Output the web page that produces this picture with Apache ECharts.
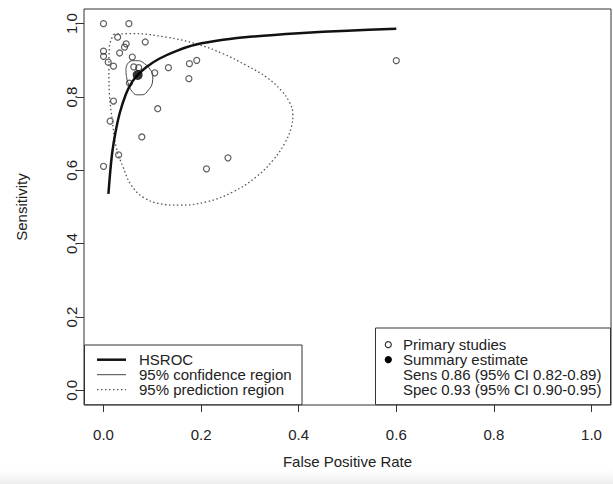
<!DOCTYPE html>
<html>
<head>
<meta charset="utf-8">
<style>
  html, body { margin: 0; padding: 0; background: #fff; }
  #chart { width: 613px; height: 484px; }
</style>
<script src="https://cdn.jsdelivr.net/npm/echarts@6.0.0/dist/echarts.min.js"></script>
</head>
<body>
<div id="chart"></div>
<script>
// primary studies (false positive rate, sensitivity)
const studyFpr = [0, 0.052, 0.029, 0.0465, 0.043, 0.0855, 0, 0, 0.033, 0.0096, 0.0205, 0.059, 0.062, 0.072,
  0.105, 0.133, 0.176, 0.191, 0.175, 0.053, 0.0205, 0.111, 0.0137, 0.0785, 0.031, 0, 0.255, 0.211, 0.6];
const studySens = [1.0, 1.0, 0.963, 0.945, 0.936, 0.95, 0.925, 0.911, 0.92, 0.895, 0.884, 0.909, 0.882, 0.88,
  0.866, 0.88, 0.891, 0.9, 0.85, 0.838, 0.789, 0.768, 0.734, 0.691, 0.642, 0.611, 0.634, 0.604, 0.899];

// summary estimate
const summaryFpr = [0.07];
const summarySens = [0.86];

// HSROC curve
const curveFpr = [0.010, 0.014, 0.018, 0.024, 0.033, 0.046, 0.058, 0.070, 0.088, 0.115, 0.15, 0.19, 0.245,
  0.306, 0.40, 0.50, 0.60];
const curveSens = [0.536, 0.60, 0.65, 0.70, 0.755, 0.808, 0.840, 0.860, 0.882, 0.905, 0.926, 0.943, 0.956,
  0.965, 0.974, 0.981, 0.986];

// 95% confidence region
const confFpr = [0.046, 0.050, 0.060, 0.072, 0.084, 0.095, 0.101, 0.100, 0.092, 0.080, 0.068, 0.058, 0.052,
  0.047, 0.046];
const confSens = [0.878, 0.892, 0.899, 0.899, 0.891, 0.876, 0.858, 0.838, 0.819, 0.806, 0.806, 0.816, 0.832,
  0.856, 0.878];

// 95% prediction region
const predFpr = [0.0205, 0.060, 0.129, 0.190, 0.245, 0.293, 0.334, 0.364, 0.381, 0.388, 0.385, 0.371, 0.347,
  0.313, 0.265, 0.211, 0.156, 0.115, 0.081, 0.057, 0.040, 0.026, 0.018, 0.012, 0.011, 0.012, 0.0205];
const predSens = [0.971, 0.973, 0.963, 0.945, 0.918, 0.886, 0.854, 0.818, 0.786, 0.755, 0.718, 0.673, 0.627,
  0.582, 0.541, 0.514, 0.505, 0.509, 0.527, 0.559, 0.609, 0.663, 0.736, 0.809, 0.873, 0.936, 0.971];

const tickValues = [0, 0.2, 0.4, 0.6, 0.8, 1.0];

const leftLegend = ['HSROC', '95% confidence region', '95% prediction region'];
const rightLegend = ['Primary studies', 'Summary estimate',
  'Sens 0.86 (95% CI 0.82-0.89)', 'Spec 0.93 (95% CI 0.90-0.95)'];

const pairs = (xs, ys) => xs.map((x, i) => [x, ys[i]]);

const FONT = '"Liberation Sans", Arial, Helvetica, sans-serif';
const ink = '#222';

const chart = echarts.init(document.getElementById('chart'), null, { renderer: 'svg' });

function axisBase(name) {
  return {
    type: 'value',
    min: -0.04,
    max: 1.04,
    name: name,
    nameLocation: 'middle',
    nameTextStyle: { color: ink, fontSize: 15, fontFamily: FONT },
    splitLine: { show: false },
    axisLine: { show: false, onZero: false },
    axisTick: {
      show: true,
      inside: false,
      length: 7,
      customValues: tickValues,
      lineStyle: { color: '#333', width: 1 },
    },
    axisLabel: {
      customValues: tickValues,
      color: ink,
      fontSize: 15,
      fontFamily: FONT,
      formatter: (v) => v.toFixed(1),
    },
  };
}

const xAxis = axisBase('False Positive Rate');
xAxis.position = 'bottom';
xAxis.nameGap = 49;
xAxis.axisLabel.margin = 22;

const yAxis = axisBase('Sensitivity');
yAxis.nameGap = 55;
yAxis.nameRotate = 90;
yAxis.axisLabel.rotate = 90;
yAxis.axisLabel.margin = 5;

// legend boxes, drawn like the R legends
const rowY = [344.7, 359.7, 374.7, 389.7];
const graphics = [
  {
    type: 'rect',
    shape: { x: 0, y: 470, width: 613, height: 14 },
    style: {
      fill: new echarts.graphic.LinearGradient(0, 0, 0, 1, [
        { offset: 0, color: '#ffffff' },
        { offset: 1, color: '#eeeeee' },
      ]),
    },
    silent: true,
    z: -10,
  },
  {
    type: 'rect',
    shape: { x: 84.5, y: 345, width: 217.5, height: 59.7 },
    style: { fill: '#fff', stroke: '#333', lineWidth: 1 },
    z: 50,
  },
  {
    type: 'line',
    shape: { x1: 97, y1: rowY[1], x2: 126, y2: rowY[1] },
    style: { stroke: '#111', lineWidth: 2.5 },
    z: 51,
  },
  {
    type: 'line',
    shape: { x1: 97, y1: rowY[2], x2: 126, y2: rowY[2] },
    style: { stroke: '#444', lineWidth: 1 },
    z: 51,
  },
  {
    type: 'line',
    shape: { x1: 97, y1: rowY[3], x2: 126, y2: rowY[3] },
    style: { stroke: '#555', lineWidth: 1.3, lineDash: [1.5, 2.5] },
    z: 51,
  },
  {
    type: 'rect',
    shape: { x: 375.5, y: 328, width: 235, height: 76.7 },
    style: { fill: '#fff', stroke: '#333', lineWidth: 1 },
    z: 50,
  },
  {
    type: 'circle',
    shape: { cx: 388.3, cy: rowY[0], r: 3 },
    style: { fill: 'none', stroke: '#333', lineWidth: 1.2 },
    z: 51,
  },
  {
    type: 'circle',
    shape: { cx: 388.3, cy: rowY[1], r: 3.6 },
    style: { fill: '#000' },
    z: 51,
  },
];
leftLegend.forEach((t, i) => {
  graphics.push({
    type: 'text',
    x: 139,
    y: rowY[i + 1],
    style: { text: t, fill: ink, font: '15px ' + FONT, verticalAlign: 'middle' },
    z: 51,
  });
});
rightLegend.forEach((t, i) => {
  graphics.push({
    type: 'text',
    x: 403,
    y: rowY[i],
    style: { text: t, fill: ink, font: '15px ' + FONT, verticalAlign: 'middle' },
    z: 51,
  });
});

chart.setOption({
  animation: false,
  backgroundColor: '#fff',
  grid: {
    left: 84,
    top: 9,
    right: 2,
    bottom: 79,
    show: true,
    borderColor: '#333',
    borderWidth: 1,
  },
  xAxis: xAxis,
  yAxis: yAxis,
  graphic: graphics,
  series: [
    {
      name: 'Primary studies',
      type: 'scatter',
      data: pairs(studyFpr, studySens),
      symbol: 'circle',
      symbolSize: 6,
      itemStyle: { color: 'rgba(255,255,255,0)', borderColor: '#333', borderWidth: 1.2 },
      z: 2,
    },
    {
      name: '95% prediction region',
      type: 'line',
      data: pairs(predFpr, predSens),
      smooth: 0.4,
      showSymbol: false,
      lineStyle: { color: '#555', width: 1.3, type: [1.5, 2.5] },
      z: 3,
    },
    {
      name: '95% confidence region',
      type: 'line',
      data: pairs(confFpr, confSens),
      smooth: 0.4,
      showSymbol: false,
      lineStyle: { color: '#444', width: 1 },
      z: 3,
    },
    {
      name: 'HSROC',
      type: 'line',
      data: pairs(curveFpr, curveSens),
      smooth: 0.3,
      showSymbol: false,
      lineStyle: { color: '#111', width: 2.5 },
      z: 4,
    },
    {
      name: 'Summary estimate',
      type: 'scatter',
      data: pairs(summaryFpr, summarySens),
      symbol: 'circle',
      symbolSize: 10,
      itemStyle: { color: '#000' },
      z: 5,
    },
  ],
});
</script>
</body>
</html>
